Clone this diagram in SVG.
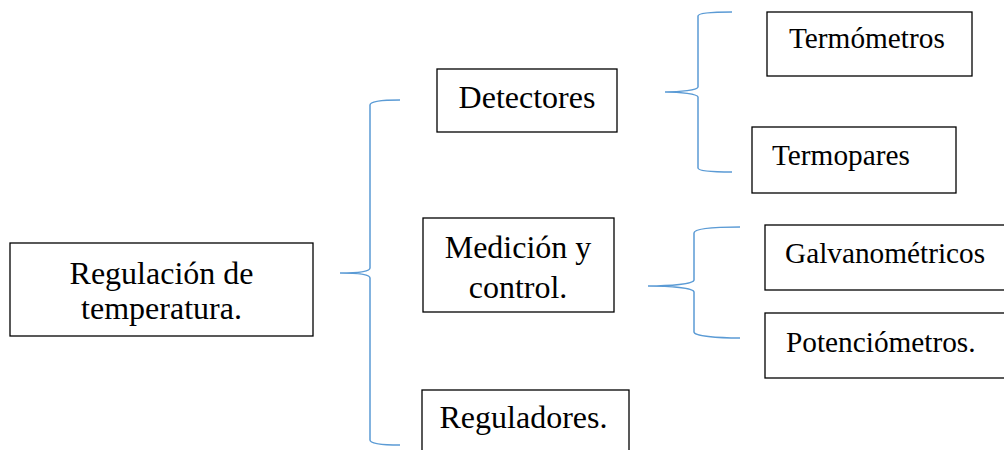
<svg xmlns="http://www.w3.org/2000/svg" width="1004" height="450" viewBox="0 0 1004 450">
<style>
.box{fill:#fff;stroke:#000;stroke-width:1.3}
text{font-family:'Liberation Serif',Tinos,'Times New Roman','DejaVu Serif','Noto Serif',serif;fill:#000}
.big{font-size:32px}
.sm{font-size:29.3px}
.br{fill:none;stroke:#5B9BD5;stroke-width:1.5}
</style>
<rect width="1004" height="450" fill="#fff"/>
<g id="connectors">
<path class="br" d="M400,100 C385,100 370,101 370,105 L370,268 C370,272 355,273 340,273 C355,273 370,274 370,278 L370,440 C370,444 385,445 400,445"/>
<path class="br" d="M732,12 C715,12 698,13 698,16 L698,87 C698,90 680,92 665,92 C680,92 698,94 698,97 L698,168 C698,171 715,172 732,172"/>
<path class="br" d="M740,227 C717,227 694,228 694,233 L694,280 C694,284 670,286 648,286 C670,286 694,288 694,292 L694,332 C694,336 717,338 740,338"/>
</g>
<g id="regulacion">
<rect class="box" x="10" y="243" width="303" height="93"/>
<text class="big" text-anchor="middle" x="161.5" y="284">Regulación de</text>
<text class="big" text-anchor="middle" x="161.5" y="319">temperatura.</text>
</g>
<g id="detectores">
<rect class="box" x="437" y="69" width="180" height="63"/>
<text class="big" text-anchor="middle" x="527" y="108">Detectores</text>
</g>
<g id="medicion">
<rect class="box" x="423" y="218" width="191" height="94"/>
<text class="big" text-anchor="middle" x="518" y="258">Medición y</text>
<text class="big" text-anchor="middle" x="518" y="298">control.</text>
</g>
<g id="reguladores">
<rect class="box" x="422" y="390" width="207" height="80"/>
<text class="big" text-anchor="middle" x="523.5" y="428">Reguladores.</text>
</g>
<g id="termometros">
<rect class="box" x="767" y="12" width="205" height="64"/>
<text class="sm" x="789" y="48">Termómetros</text>
</g>
<g id="termopares">
<rect class="box" x="752" y="127" width="204" height="66"/>
<text class="sm" x="772" y="165">Termopares</text>
</g>
<g id="galvanometricos">
<rect class="box" x="765" y="225" width="250" height="65"/>
<text class="sm" x="785" y="263">Galvanométricos</text>
</g>
<g id="potenciometros">
<rect class="box" x="765" y="313" width="250" height="65"/>
<text class="sm" x="786" y="352">Potenciómetros.</text>
</g>
</svg>
